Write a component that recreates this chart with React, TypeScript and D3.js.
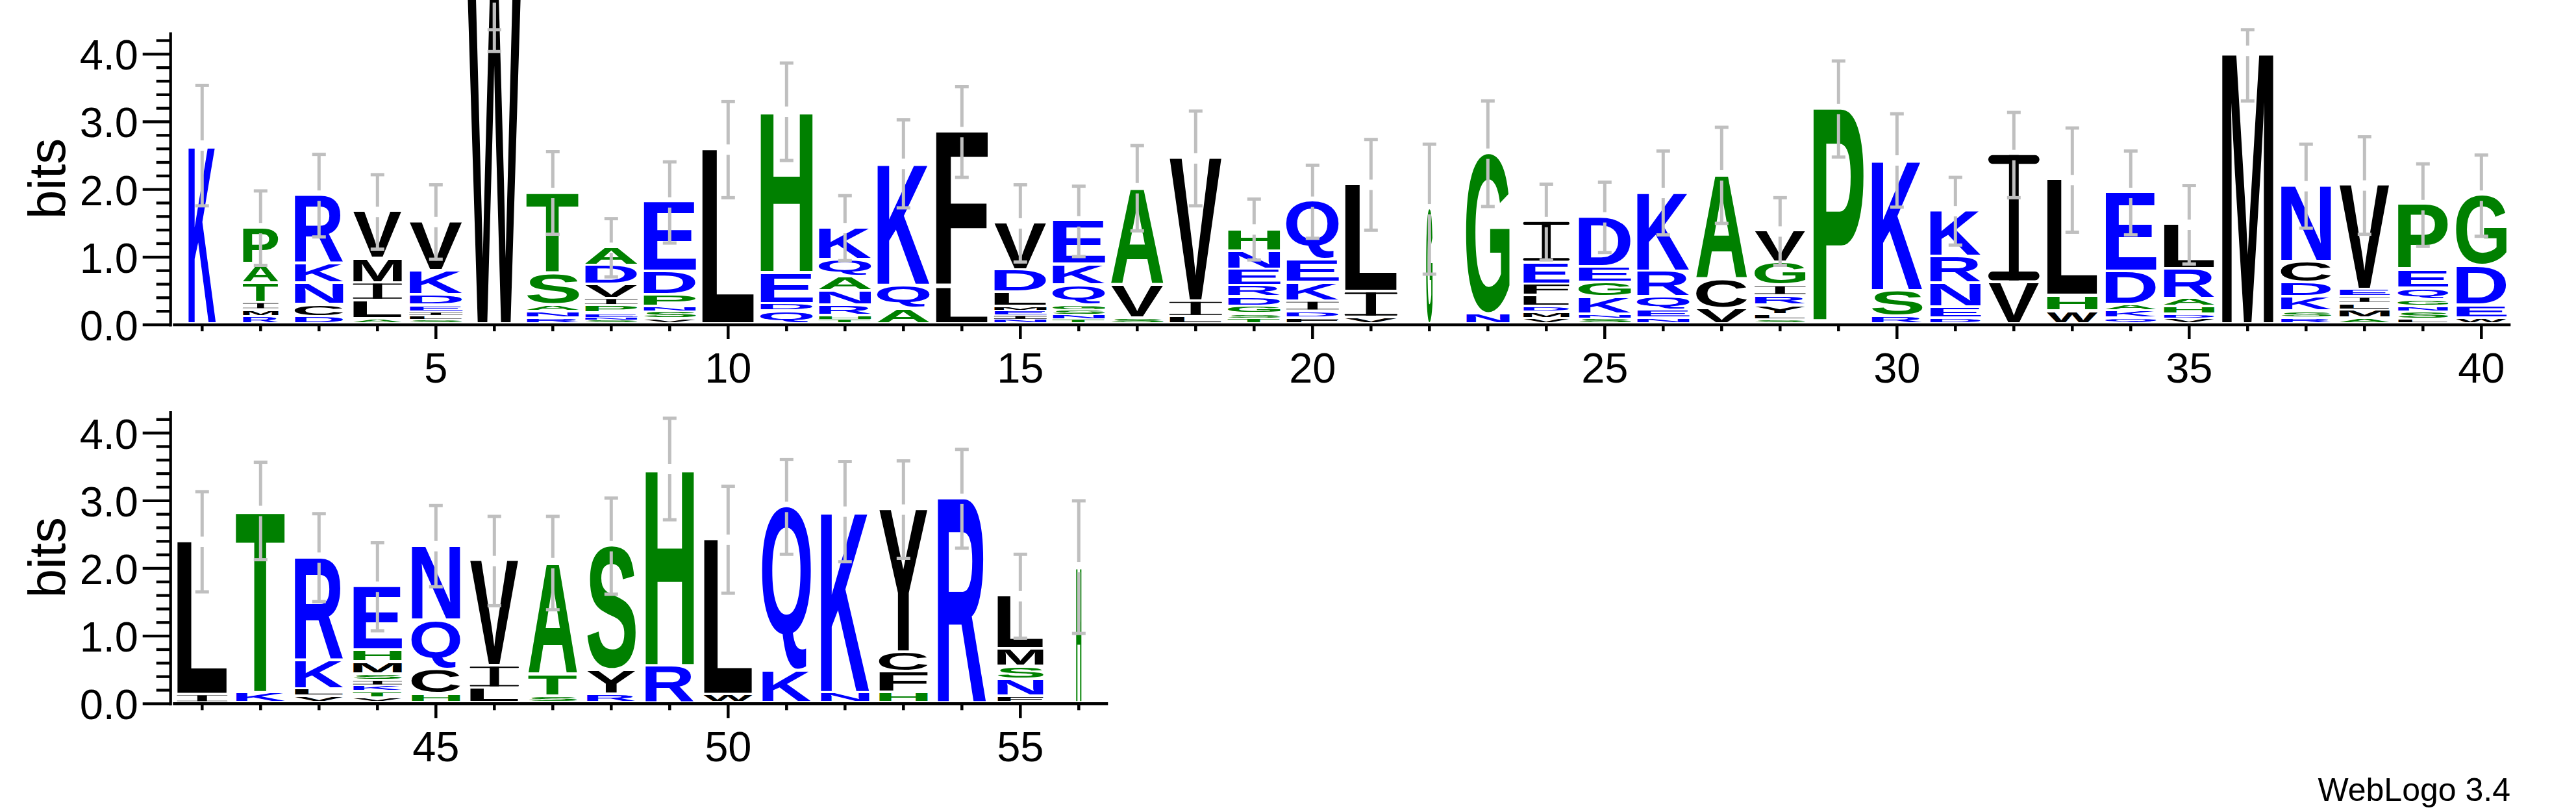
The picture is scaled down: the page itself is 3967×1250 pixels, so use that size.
import React, { useMemo } from "react";
import * as d3 from "d3";

// sequence positions, two rows of the logo
const positions = d3.range(1, 57);
const rowSpans = [
  [1, 40],
  [41, 56],
];

// letters of each stack, bottom -> top
const stackLetters = [
  "K", "RMITAP", "DCNKR", "ALIMV", "SLIEDKV", "W", "RNAST", "SNEPIVDA", "VSNPDE", "L",
  "QDEH", "THRNAQK", "AQK", "LF", "NIEMLDV", "TNSGQKE", "SVA", "LIV", "TSGDRENH", "FDIKEQ",
  "VIL", "G", "NG", "VMDLFEI", "SNKGED", "NEQRK", "VCA", "SLYRIGV", "P", "RSK",
  "DENRK", "VI", "WHL", "QKADE", "VDHARL", "M", "RSKDCN", "AMLIEV", "LSNGQEP", "WEDG",
  "IL", "KT", "VLKR", "VTKISMHE", "HCQN", "LIV", "STA", "RYS", "RH", "WL",
  "KQ", "NK", "HFCY", "R", "FNSML", "H",
];

// bits of each letter, same order
const stackBits = [
  [2.61], [0.07, 0.1, 0.11, 0.29, 0.28, 0.54], [0.07, 0.18, 0.32, 0.29, 1.01], [0.04, 0.27, 0.26, 0.36, 0.7],
  [0.03, 0.06, 0.05, 0.1, 0.15, 0.36, 0.73], [4.8], [0.05, 0.1, 0.09, 0.47, 1.2],
  [0.02, 0.04, 0.06, 0.11, 0.11, 0.21, 0.28, 0.27], [0.04, 0.11, 0.07, 0.17, 0.35, 1.03], [2.55],
  [0.15, 0.11, 0.46, 2.39], [0.03, 0.06, 0.15, 0.21, 0.21, 0.25, 0.48], [0.19, 0.34, 1.81], [0.5, 2.31],
  [0.03, 0.06, 0.07, 0.06, 0.21, 0.33, 0.7], [0.03, 0.07, 0.07, 0.07, 0.3, 0.3, 0.65], [0.05, 0.49, 1.44],
  [0.07, 0.23, 2.12], [0.05, 0.06, 0.11, 0.14, 0.17, 0.24, 0.27, 0.33], [0.05, 0.1, 0.15, 0.28, 0.33, 0.87],
  [0.06, 0.38, 1.59], [1.67], [0.11, 2.38], [0.05, 0.09, 0.08, 0.16, 0.17, 0.32, 0.61],
  [0.05, 0.06, 0.25, 0.22, 0.23, 0.74], [0.05, 0.12, 0.19, 0.38, 1.17], [0.19, 0.43, 1.55],
  [0.03, 0.07, 0.14, 0.14, 0.15, 0.34, 0.47], [3.15], [0.07, 0.38, 1.94], [0.05, 0.16, 0.36, 0.39, 0.68],
  [0.58, 1.89], [0.15, 0.23, 1.72], [0.05, 0.11, 0.09, 0.49, 1.17], [0.05, 0.06, 0.11, 0.12, 0.44, 0.66],
  [4.01], [0.05, 0.1, 0.21, 0.21, 0.31, 1.13], [0.05, 0.12, 0.1, 0.09, 0.11, 1.55],
  [0.03, 0.11, 0.08, 0.1, 0.17, 0.27, 0.97], [0.05, 0.19, 0.58, 1.05],
  [0.085, 2.27], [0.11, 2.7], [0.06, 0.11, 0.43, 1.52], [0.04, 0.09, 0.09, 0.08, 0.09, 0.18, 0.17, 0.95],
  [0.09, 0.36, 0.73, 1.11], [0.18, 0.33, 1.56], [0.06, 0.33, 1.65], [0.09, 0.36, 1.84], [0.51, 2.92],
  [0.085, 2.3], [0.43, 2.44], [0.11, 2.69], [0.11, 0.31, 0.29, 2.12], [2.99], [0.06, 0.25, 0.19, 0.26, 0.79],
  [1.98],
];

// error bar half-size in bits
const errorBits = [
  0.89, 0.55, 0.61, 0.55, 0.55, 0.8, 0.61, 0.43, 0.6, 0.71,
  0.72, 0.48, 0.65, 0.67, 0.57, 0.52, 0.63, 0.7, 0.45, 0.54,
  0.67, 0.96, 0.78, 0.56, 0.52, 0.62, 0.71, 0.5, 0.71, 0.69,
  0.5, 0.63, 0.77, 0.62, 0.58, 0.74, 0.62, 0.72, 0.61, 0.6,
  0.74, 0.72, 0.65, 0.65, 0.6, 0.66, 0.69, 0.71, 0.75, 0.79,
  0.7, 0.74, 0.72, 0.73, 0.62, 0.98,
];

// relative stack width (occupancy)
const stackWidths = [
  0.52, 0.67, 0.92, 0.92, 1, 1, 0.99, 0.99, 0.99, 0.99,
  0.99, 0.99, 0.99, 0.99, 0.99, 0.99, 0.99, 0.99, 0.99, 0.99,
  0.99, 0.12, 0.82, 0.87, 0.99, 0.99, 0.96, 0.96, 0.96, 0.96,
  0.96, 0.96, 0.96, 0.96, 0.96, 0.97, 0.95, 0.95, 0.95, 0.95,
  0.95, 0.93, 0.92, 0.92, 0.92, 0.92, 0.92, 0.92, 0.92, 0.92,
  0.92, 0.92, 0.92, 0.92, 0.87, 0.1,
];

const yTickValues = [0, 1, 2, 3, 4];
const maxBits = Math.log2(20);

const FONT = "'Liberation Sans', Arial, Helvetica, sans-serif";
const W = 3967;
const H = 1250;
const GRAY = "#bfbfbf";

const colorOf = (c: string) =>
  "RKDENQ".includes(c) ? "#0000ff" : "SGHTAP".includes(c) ? "#008000" : "#000000";

type Box = { l: number; r: number; a: number; d: number };

function measureGlyphs(): Record<string, Box> {
  const ctx = document.createElement("canvas").getContext("2d")!;
  ctx.font = `bold 100px ${FONT}`;
  const out: Record<string, Box> = {};
  for (const c of "ACDEFGHIKLMNPQRSTVWY") {
    const t = ctx.measureText(c);
    out[c] = {
      l: t.actualBoundingBoxLeft,
      r: t.actualBoundingBoxRight,
      a: t.actualBoundingBoxAscent,
      d: t.actualBoundingBoxDescent,
    };
  }
  return out;
}

function Glyph({ ch, x, y, w, h, m }: { ch: string; x: number; y: number; w: number; h: number; m: Record<string, Box> }) {
  const fill = colorOf(ch);
  if (h <= 0.2) return null;
  if (ch === "I") {
    const bar = Math.max(h * 0.07, 0.6);
    const stem = w * 0.19;
    return (
      <g fill={fill}>
        <rect x={x} y={y} width={w} height={bar} rx={bar / 2} />
        <rect x={x + (w - stem) / 2} y={y} width={stem} height={h} />
        <rect x={x} y={y + h - bar} width={w} height={bar} rx={bar / 2} />
      </g>
    );
  }
  const g = m[ch];
  const sx = w / (g.l + g.r);
  const sy = h / (g.a + g.d);
  return (
    <text
      transform={`translate(${x + g.l * sx},${y + g.a * sy}) scale(${sx},${sy})`}
      fontSize={100}
      fontWeight="bold"
      fontFamily={FONT}
      fill={fill}
    >
      {ch}
    </text>
  );
}

function LogoRow({ first, last, zeroY, m }: { first: number; last: number; zeroY: number; m: Record<string, Box> }) {
  const step = 90;
  const x0 = 266.3;
  const axisX = 262.7;
  const pxPerBit = 104.17;
  const x = d3.scaleLinear().domain([first - 0.5, last + 0.5]).range([x0, x0 + (last - first + 1) * step]);
  const y = d3.scaleLinear().domain([0, maxBits]).range([zeroY, zeroY - maxBits * pxPerBit]);
  const base = -4;
  const cols = positions.filter((p) => p >= first && p <= last);
  const minor = d3.range(0, 4.3, 0.2).filter((v) => Math.abs(v - Math.round(v)) > 0.01);

  return (
    <g>
      {cols.map((p) => {
        const i = p - 1;
        const letters = stackLetters[i];
        const bits = stackBits[i];
        const cum = d3.cumsum(bits);
        const w = 82 * stackWidths[i];
        const left = x(p) - w / 2;
        return (
          <g key={p}>
            {letters.split("").map((ch, j) => {
              const top = y(cum[j]) + base;
              const bottom = y(j === 0 ? 0 : cum[j - 1]) + base;
              const hp = bottom - top;
              const gap = j > 0 ? Math.min(4, hp * 0.35) : 0;
              return <Glyph key={j} ch={ch} x={left} y={top} w={w} h={hp - gap} m={m} />;
            })}
          </g>
        );
      })}
      {cols.map((p) => {
        const i = p - 1;
        const total = d3.sum(stackBits[i]);
        const T = y(total) + base;
        const g = 8;
        const lo = y(total - errorBits[i]) + base;
        const hiRaw = y(Math.min(total + errorBits[i], maxBits)) + base;
        const upStart = hiRaw > T ? T + g : T - g;
        const cx = x(p);
        return (
          <g key={p} stroke={GRAY} strokeWidth={5}>
            <line x1={cx} x2={cx} y1={upStart} y2={hiRaw} />
            <line x1={cx - 10.5} x2={cx + 10.5} y1={hiRaw} y2={hiRaw} />
            <line x1={cx} x2={cx} y1={T + g} y2={lo} />
            <line x1={cx - 10.5} x2={cx + 10.5} y1={lo} y2={lo} />
          </g>
        );
      })}
      {/* y axis */}
      <g stroke="#000" strokeWidth={4.3}>
        <line x1={axisX} x2={axisX} y1={y(maxBits)} y2={zeroY + 2.5} />
        {yTickValues.map((v) => (
          <line key={v} x1={axisX - 43} x2={axisX} y1={y(v)} y2={y(v)} />
        ))}
        {minor.map((v) => (
          <line key={v} x1={axisX - 22} x2={axisX} y1={y(v)} y2={y(v)} />
        ))}
      </g>
      {yTickValues.map((v) => (
        <text key={v} x={213} y={y(v) + 24} fontSize={65} fontFamily={FONT} textAnchor="end">
          {v.toFixed(1)}
        </text>
      ))}
      <text
        transform={`translate(100,${(y(maxBits) + zeroY) / 2}) rotate(-90)`}
        fontSize={80}
        fontFamily={FONT}
        textAnchor="middle"
      >
        bits
      </text>
      {/* x axis */}
      <g stroke="#000" strokeWidth={4.5}>
        <line x1={x(first - 0.5)} x2={x(last + 0.5)} y1={zeroY} y2={zeroY} />
        {cols.map((p) => (
          <line key={p} x1={x(p)} x2={x(p)} y1={zeroY} y2={zeroY + (p % 5 === 0 ? 22 : 10)} />
        ))}
      </g>
      {cols
        .filter((p) => p % 5 === 0)
        .map((p) => (
          <text key={p} x={x(p)} y={zeroY + 89} fontSize={65} fontFamily={FONT} textAnchor="middle">
            {p}
          </text>
        ))}
    </g>
  );
}

export default function App() {
  const m = useMemo(measureGlyphs, []);
  const zeros = [500, 1083.3];
  return (
    <svg width={W} height={H} style={{ position: "absolute", left: 0, top: 0, background: "#fff" }}>
      {rowSpans.map(([a, b], r) => (
        <LogoRow key={r} first={a} last={b} zeroY={zeros[r]} m={m} />
      ))}
      <text x={3866} y={1233} fontSize={50} fontFamily={FONT} textAnchor="end">
        WebLogo 3.4
      </text>
    </svg>
  );
}
